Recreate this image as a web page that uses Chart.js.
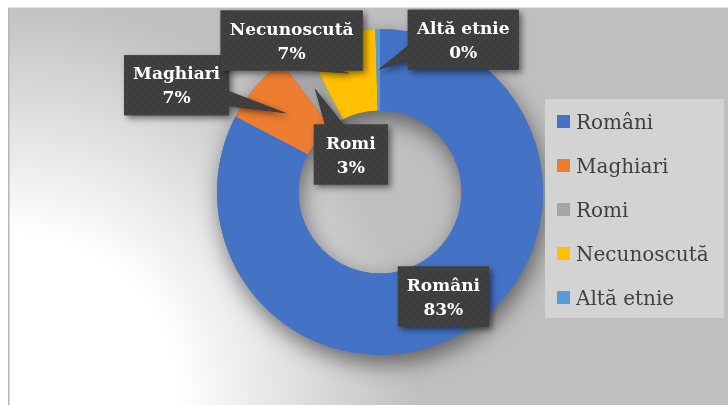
<!DOCTYPE html>
<html>
<head>
<meta charset="utf-8">
<script src="https://cdn.jsdelivr.net/npm/chart.js@4.4.1/dist/chart.umd.min.js"></script>
<style>
  html, body { margin: 0; padding: 0; background: #ffffff; }
  canvas { display: block; }
</style>
</head>
<body>
<canvas id="chart" width="728" height="405"></canvas>
<script>
// Structura etnică (procente)
const categories = ['Români', 'Maghiari', 'Romi', 'Necunoscută', 'Altă etnie'];
const shares = [82.7, 7.0, 2.8, 7.1, 0.45];
const sliceColors = ['#4472C4', '#ED7D31', '#A5A5A5', '#FFC000', '#5B9BD5'];

// where each callout box sits, relative to its slice centroid
const calloutShift = [[0, 0], [-110, -28], [36, 66], [-58, -33], [85, -30]];

const LABEL_FONT = 'bold 17px "DejaVu Serif"';
const LEGEND_FONT = '20px "DejaVu Serif"';

function percentText(i) {
  const total = shares.reduce((a, b) => a + b, 0);
  return Math.round(shares[i] / total * 100) + '%';
}

// dotted dark fill used by the callout boxes
const dotTile = document.createElement('canvas');
dotTile.width = 8; dotTile.height = 8;
(function () {
  const p = dotTile.getContext('2d');
  p.fillStyle = '#3e3e3e'; p.fillRect(0, 0, 8, 8);
  p.fillStyle = '#464646'; p.fillRect(1, 1, 2, 2); p.fillRect(5, 5, 2, 2);
})();

const backdrop = {
  id: 'backdrop',
  beforeDraw(chart) {
    const ctx = chart.ctx;
    const W = chart.width, H = chart.height;
    ctx.save();
    ctx.fillStyle = '#ffffff';
    ctx.fillRect(0, 0, W, H);
    const g = ctx.createRadialGradient(9, H, 0, 9, H, 410);
    g.addColorStop(0, '#ffffff');
    g.addColorStop(170 / 410, '#ffffff');
    g.addColorStop(1, '#bfbfbf');
    ctx.fillStyle = g;
    ctx.fillRect(9, 8, W - 9, H - 8);
    ctx.fillStyle = '#e4e4e4';
    ctx.fillRect(8, 7, W - 8, 1);
    ctx.fillStyle = '#b6b6b6';
    ctx.fillRect(8, 8, 1.5, H - 8);
    ctx.restore();
  }
};

const ringShadow = {
  id: 'ringShadow',
  beforeDatasetsDraw(chart) {
    const arc = chart.getDatasetMeta(0).data[0];
    if (!arc) return;
    const { x, y, outerRadius, innerRadius } = arc.getProps(['x', 'y', 'outerRadius', 'innerRadius'], true);
    const ctx = chart.ctx;
    ctx.save();
    ctx.shadowColor = 'rgba(0,0,0,0.5)';
    ctx.shadowBlur = 22;
    ctx.shadowOffsetX = 3;
    ctx.shadowOffsetY = 9;
    ctx.beginPath();
    ctx.arc(x, y, outerRadius, 0, Math.PI * 2);
    ctx.arc(x, y, innerRadius, 0, Math.PI * 2, true);
    ctx.fillStyle = sliceColors[0];
    ctx.fill();
    ctx.restore();
  }
};

function calloutPath(ctx, l, t, w, h, tx, ty) {
  const cx = l + w / 2, cy = t + h / 2;
  const nx = (tx - cx) / (w / 2), ny = (ty - cy) / (h / 2);
  ctx.beginPath();
  ctx.rect(l, t, w, h);
  if (Math.abs(nx) <= 1 && Math.abs(ny) <= 1) return;
  if (Math.abs(nx) > Math.abs(ny)) {
    const ex = nx > 0 ? l + w : l;
    const f = ty > cy ? [0.6, 0.85] : [0.15, 0.4];
    ctx.moveTo(ex, t + h * f[0]);
    ctx.lineTo(tx, ty);
    ctx.lineTo(ex, t + h * f[1]);
    ctx.closePath();
  } else {
    const ey = ny > 0 ? t + h : t;
    const f = tx > cx ? [0.6, 0.85] : [0.15, 0.4];
    ctx.moveTo(l + w * f[0], ey);
    ctx.lineTo(tx, ty);
    ctx.lineTo(l + w * f[1], ey);
    ctx.closePath();
  }
}

const callouts = {
  id: 'callouts',
  afterDatasetsDraw(chart) {
    const ctx = chart.ctx;
    const arcs = chart.getDatasetMeta(0).data;
    const pattern = ctx.createPattern(dotTile, 'repeat');
    ctx.save();
    ctx.font = LABEL_FONT;
    arcs.forEach((arc, i) => {
      const tip = arc.tooltipPosition(true);
      const lines = [categories[i], percentText(i)];
      const textW = Math.max(...lines.map(s => ctx.measureText(s).width));
      const w = Math.round(Math.max(textW + 18, 74)), h = 60;
      const cx = tip.x + calloutShift[i][0], cy = tip.y + calloutShift[i][1];
      const l = cx - w / 2, t = cy - h / 2;

      ctx.save();
      ctx.shadowColor = 'rgba(0,0,0,0.5)';
      ctx.shadowBlur = 6;
      ctx.shadowOffsetX = 3;
      ctx.shadowOffsetY = 3;
      calloutPath(ctx, l, t, w, h, tip.x, tip.y);
      ctx.fillStyle = '#3e3e3e';
      ctx.fill();
      ctx.restore();
      calloutPath(ctx, l, t, w, h, tip.x, tip.y);
      ctx.fillStyle = pattern;
      ctx.fill();

      ctx.fillStyle = '#ffffff';
      ctx.textAlign = 'center';
      ctx.textBaseline = 'alphabetic';
      ctx.fillText(lines[0], cx, cy - 12 + 6);
      ctx.fillText(lines[1], cx, cy + 12 + 6);
    });
    ctx.restore();
  }
};

const sideLegend = {
  id: 'sideLegend',
  afterDraw(chart) {
    const ctx = chart.ctx;
    const labels = chart.data.labels;
    const colors = chart.data.datasets[0].backgroundColor;
    ctx.save();
    ctx.fillStyle = '#d3d3d3';
    ctx.fillRect(545, 99, 179, 219);
    ctx.font = LEGEND_FONT;
    ctx.textAlign = 'left';
    ctx.textBaseline = 'alphabetic';
    labels.forEach((lab, i) => {
      const yc = 121.5 + i * 44;
      ctx.fillStyle = colors[i];
      ctx.fillRect(557, yc - 6.5, 13, 13);
      ctx.fillStyle = '#404040';
      ctx.fillText(lab, 576, yc + 7.5);
    });
    ctx.restore();
  }
};

new Chart(document.getElementById('chart'), {
  type: 'doughnut',
  data: {
    labels: categories,
    datasets: [{
      data: shares,
      backgroundColor: sliceColors,
      borderWidth: 0,
      hoverOffset: 0
    }]
  },
  options: {
    responsive: false,
    animation: false,
    events: [],
    cutout: '50%',
    rotation: 0,
    layout: { padding: { left: 217, right: 185, top: 29, bottom: 50 } },
    plugins: {
      legend: { display: false },
      tooltip: { enabled: false },
      title: { display: false }
    }
  },
  plugins: [backdrop, ringShadow, callouts, sideLegend]
});
</script>
</body>
</html>
